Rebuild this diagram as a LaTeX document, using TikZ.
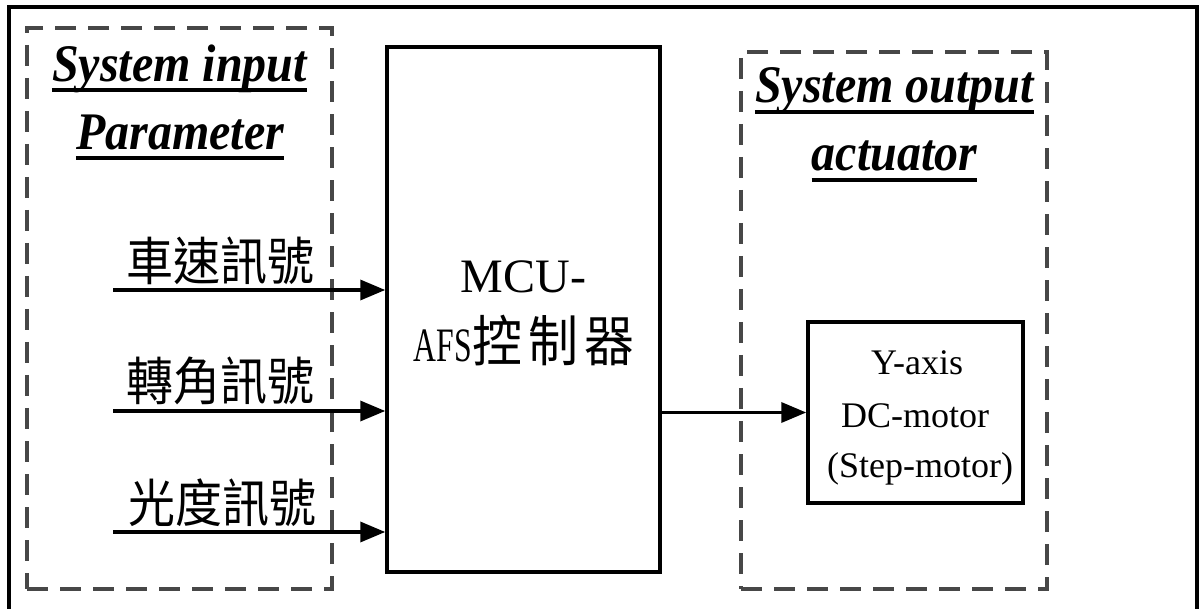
\documentclass[tikz,border=0pt]{standalone}
\usepackage{fontspec}
\usepackage{graphicx}
\setmainfont{Liberation Serif}
\newfontfamily\cjk{Noto Sans CJK TC}
\usetikzlibrary{arrows.meta}
\newcommand{\tall}[1]{\scalebox{1}[1.1]{#1}}
\begin{document}
\begin{tikzpicture}[x=1pt,y=-1pt,
  frame/.style={draw=black, line width=3.5pt},
  dbox/.style={draw=black!72, line width=3.4pt, dash pattern=on 21pt off 12pt, inner sep=0pt},
  solidbox/.style={draw=black, line width=3.5pt, inner sep=0pt},
  title/.style={font=\fontsize{48}{56}\selectfont\bfseries\itshape, inner sep=0pt, anchor=base},
  sig/.style={font=\cjk\fontsize{47}{56}\selectfont, inner sep=0pt, anchor=base},
  mcutext/.style={font=\fontsize{48}{56}\selectfont, inner sep=0pt, anchor=base},
  mottext/.style={font=\fontsize{36}{44}\selectfont, inner sep=0pt, anchor=base},
  conn/.style={line width=3.5pt, -{Triangle[length=25pt,width=20pt]}},
  uline/.style={line width=4pt}]
\useasboundingbox (0,0) rectangle (1202,609);
\fill[white] (0,0) rectangle (1202,609);
\draw[frame] (9,7) rectangle (1197,625);

% boxes
\node[dbox, minimum width=305pt, minimum height=561pt] (inbox) at (179.5,308.5) {};
\node[dbox, minimum width=306pt, minimum height=537pt] (outbox) at (894,320.5) {};
\node[solidbox, minimum width=273pt, minimum height=525pt] (mcu) at (523.5,309.5) {};
\node[solidbox, minimum width=215pt, minimum height=181pt] (motor) at (915.5,412.5) {};

% titles
\node[title] (ti1) at (179.5,82) {\tall{System input}};
\node[title] (ti2) at (180,150) {\tall{Parameter}};
\node[title] (to1) at (894.5,103) {\tall{System output}};
\node[title] (to2) at (894.5,171) {\tall{actuator}};
\draw[uline] ([yshift=-8pt]ti1.base west) -- ([yshift=-8pt]ti1.base east);
\draw[uline] ([yshift=-8pt]ti2.base west) -- ([yshift=-8pt]ti2.base east);
\draw[uline] ([yshift=-9pt]to1.base west) -- ([yshift=-9pt]to1.base east);
\draw[uline] ([yshift=-9pt]to2.base west) -- ([yshift=-9pt]to2.base east);

% input signals
\node[sig] (s1) at (220,281) {\tall{車速訊號}};
\node[sig] (s2) at (220,401) {\tall{轉角訊號}};
\node[sig] (s3) at (222,522) {\tall{光度訊號}};
\coordinate (in1) at (113,290);
\coordinate (in2) at (113,411);
\coordinate (in3) at (113,532);
\draw[conn] (in1) -- (in1 -| mcu.west);
\draw[conn] (in2) -- (in2 -| mcu.west);
\draw[conn] (in3) -- (in3 -| mcu.west);

% MCU text
\node[mcutext] (m1) at (523.5,293) {MCU-};
\node[mcutext] (m2) at (524,362) {\scalebox{0.66}[1]{AFS}{\cjk\fontsize{50}{56}\selectfont\tall{控}\hspace{6pt}\tall{制}\hspace{6pt}\tall{器}}};

% motor text
\node[mottext] (y1) at (917,375) {Y-axis};
\node[mottext] (y2) at (915,427) {DC-motor};
\node[mottext] (y3) at (920,477) {(Step-motor)};

% output
\draw[conn] (mcu.east |- motor.west) -- (motor.west);
\end{tikzpicture}
\end{document}
